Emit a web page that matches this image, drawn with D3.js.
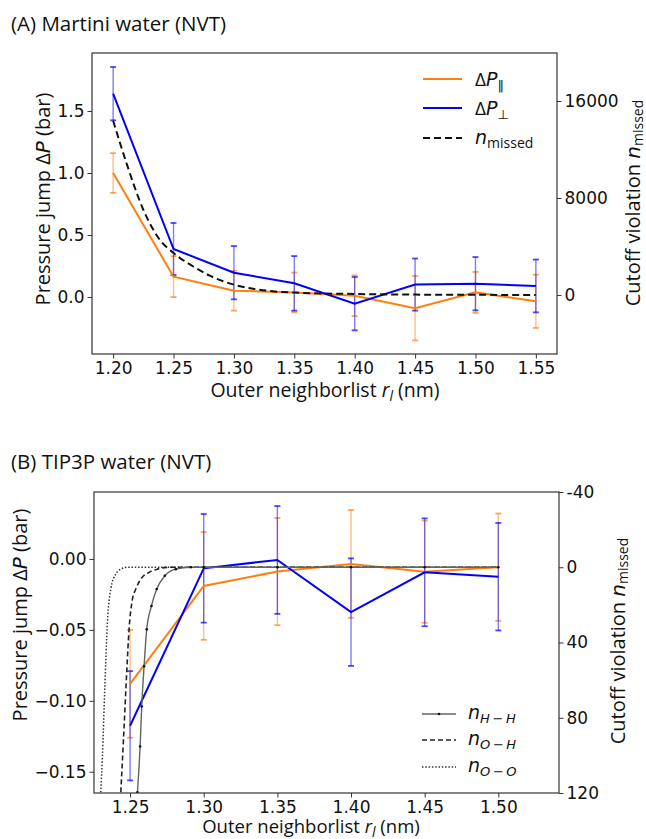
<!DOCTYPE html>
<html>
<head>
<meta charset="utf-8">
<script src="https://cdn.jsdelivr.net/npm/d3@7"></script>
<style>
  body { margin: 0; background: #fff; }
  .tick text { font-family: "DejaVu Sans", sans-serif; font-size: 17px; fill: #111; }
  .tick line { stroke: #333; }
  .lab { font-family: "Open Sans", sans-serif; font-size: 20px; fill: #111; }
  .xlab { font-family: "Open Sans", sans-serif; font-size: 19.5px; fill: #111; }
  .ttl { font-family: "Open Sans", sans-serif; font-size: 20.5px; fill: #111; }
  .leg { font-family: "Open Sans", sans-serif; font-size: 19px; fill: #111; }
</style>
</head>
<body>
<div id="chart"></div>
<script>
// Panel A: Martini water
const rA = [1.20, 1.25, 1.30, 1.35, 1.40, 1.45, 1.50, 1.55];
const dpParA = [1.0, 0.164, 0.05, 0.037, 0.01, -0.09, 0.037, -0.035];
const dpParAErr = [0.16, 0.165, 0.16, 0.16, 0.165, 0.26, 0.165, 0.215];
const dpPerpA = [1.64, 0.387, 0.196, 0.11, -0.054, 0.10, 0.107, 0.089];
const dpPerpAErr = [0.215, 0.21, 0.215, 0.22, 0.215, 0.21, 0.215, 0.213];
const rMissed = [1.20, 1.211, 1.225, 1.2386, 1.25, 1.266, 1.28, 1.30, 1.332, 1.35, 1.40, 1.45, 1.50, 1.55];
const nMissed = [14375, 10890, 7030, 4560, 3460, 2370, 1590, 850, 305, 200, 80, 30, 10, 5];
const ticksXA = [1.20, 1.25, 1.30, 1.35, 1.40, 1.45, 1.50, 1.55];
const ticksYA = [0.0, 0.5, 1.0, 1.5];
const ticksY2A = [0, 8000, 16000];

// Panel B: TIP3P water
const rB = [1.25, 1.30, 1.35, 1.40, 1.45, 1.50];
const dpParB = [-0.088, -0.019, -0.0089, -0.0035, -0.009, -0.0058];
const dpParBErr = [0.038, 0.038, 0.0378, 0.038, 0.036, 0.0378];
const dpPerpB = [-0.1176, -0.0066, -0.0007, -0.0375, -0.0094, -0.0125];
const dpPerpBErr = [0.0385, 0.0383, 0.038, 0.0379, 0.038, 0.0379];
const rHH = [1.255, 1.2568, 1.2579, 1.2595, 1.2613, 1.2645, 1.2681, 1.2736, 1.281, 1.2912, 1.30, 1.35, 1.40, 1.45, 1.50];
const nHH = [119.6, 95.3, 74, 52.6, 33, 20.6, 11.6, 4.5, 1, 0, 0, 0, 0, 0, 0];
const rOH = [1.2437, 1.2455, 1.2478, 1.2493, 1.2516, 1.2539, 1.2573, 1.2629, 1.2685, 1.2776, 1.50];
const nOH = [119.6, 91.7, 54.4, 33, 17, 11.6, 6.3, 2.7, 1, 0, 0];
const rOO = [1.2301, 1.2312, 1.2328, 1.2346, 1.2369, 1.2403, 1.2437, 1.2482, 1.50];
const nOO = [119.6, 100.6, 65, 29.4, 11.6, 3.6, 1, 0, 0];
const ticksXB = [1.25, 1.30, 1.35, 1.40, 1.45, 1.50];
const ticksYB = [0.00, -0.05, -0.10, -0.15];
const ticksY2B = [-40, 0, 40, 80, 120];

const W = 646, H = 839;
const orange = "#ff7f0e", blue = "#0000ff";

const svg = d3.select("#chart").append("svg")
    .attr("width", W).attr("height", H)
    .style("background", "#fff");

const minus = s => s.replace("-", "\u2212");

function drawErr(g, x, y, rs, vs, es, color) {
    rs.forEach((r, i) => {
        const xx = x(r);
        g.append("line")
            .attr("x1", xx).attr("x2", xx)
            .attr("y1", y(vs[i] - es[i])).attr("y2", y(vs[i] + es[i]))
            .attr("stroke", color).attr("stroke-width", 1.4).attr("opacity", 0.5);
        [vs[i] - es[i], vs[i] + es[i]].forEach(v => {
            g.append("line")
                .attr("x1", xx - 3).attr("x2", xx + 3)
                .attr("y1", y(v)).attr("y2", y(v))
                .attr("stroke", color).attr("stroke-width", 1.8).attr("opacity", 0.7);
        });
    });
}

function drawLine(g, x, y, rs, vs, color, width, dash, curve) {
    const line = d3.line()
        .x((d, i) => x(rs[i]))
        .y(d => y(d))
        .curve(curve || d3.curveLinear);
    return g.append("path")
        .datum(vs)
        .attr("d", line)
        .attr("fill", "none")
        .attr("stroke", color)
        .attr("stroke-width", width)
        .attr("stroke-dasharray", dash || null);
}

function axes(x, y, y2, tx, ty, ty2, fmtX, fmtY, fmtY2) {
    const [x0, x1] = x.range();
    const [yb, yt] = y.range();
    svg.append("g")
        .attr("transform", `translate(0,${yb})`)
        .call(d3.axisBottom(x).tickValues(tx).tickFormat(fmtX).tickSize(4.5).tickPadding(3))
        .call(g => g.select(".domain").remove());
    svg.append("g")
        .attr("transform", `translate(${x0},0)`)
        .call(d3.axisLeft(y).tickValues(ty).tickFormat(fmtY).tickSize(4.5).tickPadding(3))
        .call(g => g.select(".domain").remove());
    svg.append("g")
        .attr("transform", `translate(${x1},0)`)
        .call(d3.axisRight(y2).tickValues(ty2).tickFormat(fmtY2).tickSize(4.5).tickPadding(3))
        .call(g => g.select(".domain").remove());
    svg.append("rect")
        .attr("x", x0).attr("y", yt)
        .attr("width", x1 - x0).attr("height", yb - yt)
        .attr("fill", "none").attr("stroke", "#333").attr("stroke-width", 1.2);
}

function xLabel(cx, y, size) {
    const t = svg.append("text").attr("class", "xlab")
        .attr("x", cx).attr("y", y).attr("text-anchor", "middle")
        .style("font-size", size + "px");
    t.append("tspan").text("Outer neighborlist ");
    t.append("tspan").style("font-style", "italic").text("r");
    t.append("tspan").style("font-style", "italic").style("font-size", "14px").attr("dy", 4).text("l");
    t.append("tspan").attr("dy", -4).text(" (nm)");
}

function yLabel(cx, cy) {
    const t = svg.append("text").attr("class", "lab")
        .attr("transform", `translate(${cx},${cy}) rotate(-90)`)
        .attr("text-anchor", "middle");
    t.append("tspan").text("Pressure jump \u0394");
    t.append("tspan").style("font-style", "italic").style("font-family", "DejaVu Sans").text("P");
    t.append("tspan").text(" (bar)");
}

function y2Label(cx, cy) {
    const t = svg.append("text").attr("class", "lab")
        .attr("transform", `translate(${cx},${cy}) rotate(-90)`)
        .attr("text-anchor", "middle");
    t.append("tspan").text("Cutoff violation ");
    t.append("tspan").style("font-style", "italic").style("font-family", "DejaVu Sans").text("n");
    t.append("tspan").style("font-size", "14px").attr("dy", 3).text("missed");
}

// ---------- Panel A ----------
const xA = d3.scaleLinear().domain([1.1825, 1.5675]).range([92, 557]);
const yA = d3.scaleLinear().domain([-0.46, 1.968]).range([354, 53]);
const y2A = d3.scaleLinear().domain([-4870, 19960]).range([354, 53]);

svg.append("text").attr("class", "ttl").attr("x", 11).attr("y", 31)
    .text("(A) Martini water (NVT)");

const gA = svg.append("g");
drawErr(gA, xA, yA, rA, dpParA, dpParAErr, orange);
drawErr(gA, xA, yA, rA, dpPerpA, dpPerpAErr, blue);
drawLine(gA, xA, yA, rA, dpParA, orange, 2);
drawLine(gA, xA, yA, rA, dpPerpA, blue, 2);
drawLine(gA, xA, y2A, rMissed, nMissed, "#111", 2, "7,4", d3.curveMonotoneX);

axes(xA, yA, y2A, ticksXA, ticksYA, ticksY2A, d3.format(".2f"), d3.format(".1f"), d3.format("d"));
xLabel(325, 397, 19.5);
yLabel(50, 199);
y2Label(640, 203);

// legend A
const legA = svg.append("g");
[[orange, null, 79], [blue, null, 108], ["#111", "7,4", 138]].forEach(([c, dash, ly]) => {
    legA.append("line").attr("x1", 423).attr("x2", 462).attr("y1", ly).attr("y2", ly)
        .attr("stroke", c).attr("stroke-width", 2).attr("stroke-dasharray", dash);
});
let t = legA.append("text").attr("class", "leg").attr("x", 475).attr("y", 86);
t.append("tspan").text("\u0394");
t.append("tspan").style("font-style", "italic").style("font-family", "DejaVu Sans").text("P");
t.append("tspan").style("font-size", "13px").style("font-family", "DejaVu Sans").attr("dy", 4).text("\u2016");
t = legA.append("text").attr("class", "leg").attr("x", 475).attr("y", 115);
t.append("tspan").text("\u0394");
t.append("tspan").style("font-style", "italic").style("font-family", "DejaVu Sans").text("P");
t.append("tspan").style("font-size", "13px").style("font-family", "DejaVu Sans").attr("dy", 4).text("\u22a5");
t = legA.append("text").attr("class", "leg").attr("x", 475).attr("y", 144);
t.append("tspan").style("font-style", "italic").style("font-family", "DejaVu Sans").text("n");
t.append("tspan").style("font-size", "14px").attr("dy", 4).text("missed");

// ---------- Panel B ----------
const xB = d3.scaleLinear().domain([1.2255, 1.5412]).range([94, 559]);
const yB = d3.scaleLinear().domain([-0.165, 0.0472]).range([793, 492]);
const y2B = d3.scaleLinear().domain([120, -40]).range([793, 492]);

svg.append("text").attr("class", "ttl").attr("x", 11).attr("y", 469)
    .text("(B) TIP3P water (NVT)");

svg.append("clipPath").attr("id", "clipB")
    .append("rect").attr("x", 94).attr("y", 492).attr("width", 465).attr("height", 301);

const gB = svg.append("g").attr("clip-path", "url(#clipB)");
drawErr(gB, xB, yB, rB, dpParB, dpParBErr, orange);
drawErr(gB, xB, yB, rB, dpPerpB, dpPerpBErr, blue);
drawLine(gB, xB, yB, rB, dpParB, orange, 2);
drawLine(gB, xB, yB, rB, dpPerpB, blue, 2);

const grey = "#5d675f";
drawLine(gB, xB, y2B, rOO, nOO, "#333", 1.5, "1.5,1.8", d3.curveMonotoneX);
drawLine(gB, xB, y2B, rOH, nOH, "#222", 1.6, "5,3", d3.curveMonotoneX);
drawLine(gB, xB, y2B, rHH, nHH, grey, 1.4, null, d3.curveMonotoneX);
gB.selectAll(".hh").data(nHH).join("circle")
    .attr("cx", (d, i) => xB(rHH[i])).attr("cy", d => y2B(d))
    .attr("r", 1.3).attr("fill", "#111");

axes(xB, yB, y2B, ticksXB, ticksYB, ticksY2B, d3.format(".2f"), d => minus(d3.format(".2f")(d)), d => String(d));
xLabel(311, 833, 18.5);
yLabel(27, 615);
y2Label(625, 641);

// legend B
const legB = svg.append("g");
const legRows = [["H\u2009\u2212\u2009H", grey, null, 714], ["O\u2009\u2212\u2009H", "#222", "5,3", 740], ["O\u2009\u2212\u2009O", "#333", "1.5,1.8", 767]];
legRows.forEach(([sub, c, dash, ly]) => {
    legB.append("line").attr("x1", 422).attr("x2", 456).attr("y1", ly).attr("y2", ly)
        .attr("stroke", c).attr("stroke-width", 1.5).attr("stroke-dasharray", dash);
    const tt = legB.append("text").attr("class", "leg").attr("x", 468).attr("y", ly + 5);
    tt.append("tspan").style("font-style", "italic").style("font-family", "DejaVu Sans").text("n");
    tt.append("tspan").style("font-style", "italic").style("font-family", "DejaVu Sans")
        .style("font-size", "13px").attr("dy", 4).text(sub);
});
legB.append("circle").attr("cx", 439).attr("cy", 714).attr("r", 1.3).attr("fill", "#111");
</script>
</body>
</html>
